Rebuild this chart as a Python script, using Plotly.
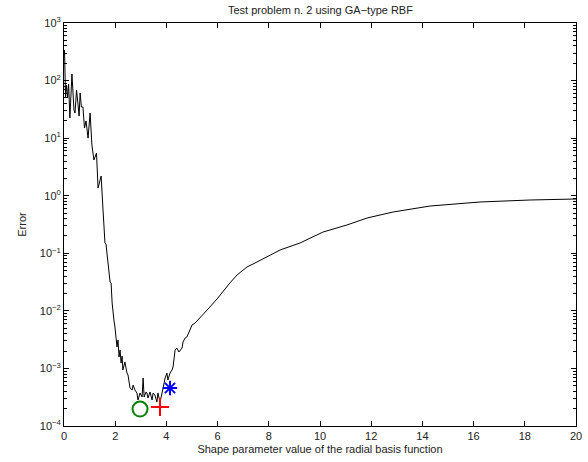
import plotly.graph_objects as go

shape_param = [0.02, 0.06, 0.10, 0.14, 0.18, 0.23, 0.31, 0.39, 0.43, 0.49, 0.55, 0.59, 0.63, 0.68,
               0.74, 0.80, 0.86, 0.94, 1.02, 1.09, 1.17, 1.27, 1.33, 1.45, 1.52, 1.60, 1.64, 1.72,
               1.80, 1.84, 1.88, 1.95, 1.99, 2.07, 2.11, 2.15, 2.19, 2.23, 2.27, 2.30, 2.38, 2.46,
               2.50, 2.58, 2.66, 2.70, 2.77, 2.85, 2.89, 2.97, 3.05, 3.09, 3.13, 3.20, 3.24, 3.28,
               3.36, 3.44, 3.48, 3.55, 3.63, 3.67, 3.75, 3.83, 3.87, 3.95, 4.02, 4.06, 4.14, 4.22,
               4.26, 4.34, 4.41, 4.49, 4.61, 4.65, 4.73, 4.80, 4.92, 5.00, 5.12, 5.31, 5.63, 5.98,
               6.21, 6.48, 6.76, 7.15, 7.54, 7.97, 8.44, 9.22, 10.12, 11.05, 11.84, 12.85, 14.30,
               16.25, 18.20, 20.0]
error = [340, 51.9, 83.8, 49.8, 87.1, 22.4, 130, 30.8, 27.3, 68.6, 37.6, 24.2, 60.8, 34.7,
         34.7, 15.0, 19.9, 10.0, 27.3, 7.60, 4.17, 5.52, 1.36, 2.20, 0.612, 0.151, 0.145, 0.0706,
         0.0317, 0.0305, 0.0137, 0.00693, 0.00525, 0.00236, 0.00312, 0.00158, 0.00209, 0.00124,
         0.00164, 0.00094, 0.00129, 0.000832, 0.000769, 0.000457, 0.000422, 0.000515, 0.000422,
         0.000374, 0.000283, 0.000374, 0.000319, 0.000682, 0.000319, 0.000389, 0.000374, 0.000306,
         0.000389, 0.000283, 0.000374, 0.000345, 0.000261, 0.000374, 0.000261, 0.000374, 0.000475,
         0.000682, 0.00083, 0.00063, 0.00083, 0.00094, 0.00106, 0.00209, 0.00226, 0.00193, 0.00226,
         0.00288, 0.00337, 0.00352, 0.00465, 0.00568, 0.00615, 0.00752, 0.0108, 0.0161, 0.0221,
         0.0305, 0.042, 0.0578, 0.0706, 0.0897, 0.114, 0.151, 0.234, 0.310, 0.410, 0.521, 0.662,
         0.778, 0.842, 0.877]

circle_pt = (2.97, 1.97e-4)
plus_pt = (3.75, 2.14e-4)
star_pt = (4.14, 4.57e-4)

x_ticks = list(range(0, 21, 2))
y_exponents = [-4, -3, -2, -1, 0, 1, 2, 3]
y_tickvals = [10.0 ** e for e in y_exponents]
y_ticktext = ["10<sup>%s</sup>" % (str(e).replace("-", "\u2212")) for e in y_exponents]
y_minor_vals = [m * 10.0 ** e for e in y_exponents[:-1] for m in range(2, 10)]

FONT = "Liberation Sans, Arial, sans-serif"

fig = go.Figure()
fig.add_trace(go.Scatter(x=shape_param, y=error, mode="lines",
                         line=dict(color="black", width=1), showlegend=False))
fig.add_trace(go.Scatter(x=[circle_pt[0]], y=[circle_pt[1]], mode="markers",
                         marker=dict(symbol="circle-open", size=15, color="rgb(0,128,0)",
                                     line=dict(width=2, color="rgb(0,128,0)")), showlegend=False))
fig.add_trace(go.Scatter(x=[plus_pt[0]], y=[plus_pt[1]], mode="markers",
                         marker=dict(symbol="cross-thin-open", size=13, color="red",
                                     line=dict(width=2, color="red")), showlegend=False))
fig.add_trace(go.Scatter(x=[star_pt[0]], y=[star_pt[1]], mode="markers",
                         marker=dict(symbol="asterisk-open", size=12, color="blue",
                                     line=dict(width=2, color="blue")), showlegend=False))

fig.update_layout(
    width=588, height=462,
    margin=dict(l=64, r=12, t=23, b=36, autoexpand=False),
    paper_bgcolor="white", plot_bgcolor="white",
    font=dict(family=FONT, size=11, color="#222"),
    title=dict(text="Test problem n. 2 using GA\u2212type RBF", x=0.545, xanchor="center",
               y=1 - 10 / 462, yanchor="middle", font=dict(size=11, color="#222")),
    xaxis=dict(range=[0, 20], tickvals=x_ticks, ticks="inside", ticklen=5, tickcolor="black",
               showline=True, linecolor="black", linewidth=1, mirror="ticks", showgrid=False,
               zeroline=False, automargin=False,
               title=dict(text="Shape parameter value of the radial basis function", standoff=4,
                          font=dict(size=11))),
    yaxis=dict(type="log", range=[-4, 3], tickvals=y_tickvals, ticktext=y_ticktext,
               ticks="inside", ticklen=5, tickcolor="black", showline=True, linecolor="black",
               linewidth=1, mirror="ticks", showgrid=False, zeroline=False, automargin=False,
               minor=dict(ticks="inside", ticklen=3, tickcolor="black", tickvals=y_minor_vals,
                          showgrid=False),
               title=dict(text="Error", standoff=10, font=dict(size=11))),
)

fig.write_html("out.html")
